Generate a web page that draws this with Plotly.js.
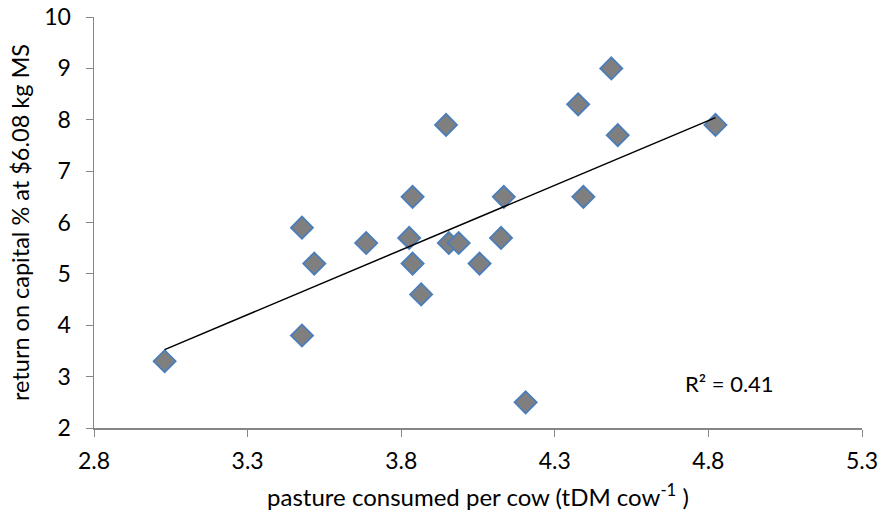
<!DOCTYPE html>
<html>
<head>
<meta charset="utf-8">
<script src="https://cdn.plot.ly/plotly-3.0.1.min.js"></script>
<style>html,body{margin:0;padding:0;background:#fff;}#chart{width:879px;height:517px;}</style>
</head>
<body>
<div id="chart"></div>
<script>
var pastureConsumed = [3.03, 3.477, 3.477, 3.517, 3.686, 3.826, 3.837, 3.837, 3.865, 3.946, 3.955, 3.987, 4.055, 4.125, 4.134, 4.205, 4.376, 4.393, 4.484, 4.505, 4.823];
var returnOnCapital = [3.3, 5.9, 3.8, 5.2, 5.6, 5.7, 6.5, 5.2, 4.6, 7.9, 5.6, 5.6, 5.2, 5.7, 6.5, 2.5, 8.3, 6.5, 9.0, 7.7, 7.9];
var xTickVals = [2.8, 3.3, 3.8, 4.3, 4.8, 5.3];
var xTickText = ["2.8", "3.3", "3.8", "4.3", "4.8", "5.3"];
var rSquaredLabel = "R² = 0.41";

// linear trendline (least squares) from the data
var n = pastureConsumed.length, sx = 0, sy = 0, sxx = 0, sxy = 0;
for (var i = 0; i < n; i++) { sx += pastureConsumed[i]; sy += returnOnCapital[i]; sxx += pastureConsumed[i]*pastureConsumed[i]; sxy += pastureConsumed[i]*returnOnCapital[i]; }
var slope = (n*sxy - sx*sy) / (n*sxx - sx*sx);
var intercept = (sy - slope*sx) / n;
var xMin = Math.min.apply(null, pastureConsumed), xMax = Math.max.apply(null, pastureConsumed);
var trendX = [xMin, xMax];
var trendY = [intercept + slope*xMin, intercept + slope*xMax];

var font = "Lato, 'Open Sans', sans-serif";
var data = [
  {x: pastureConsumed, y: returnOnCapital, type: 'scatter', mode: 'markers',
   marker: {symbol: 'diamond', size: 17, color: '#7f7f7f', line: {color: '#4a7ebb', width: 1.8}},
   hoverinfo: 'x+y', showlegend: false},
  {x: trendX, y: trendY, type: 'scatter', mode: 'lines', line: {color: '#000', width: 1.5}, showlegend: false}
];
var layout = {
  width: 879, height: 517,
  margin: {l: 94, r: 17, t: 17, b: 89},
  paper_bgcolor: '#fff', plot_bgcolor: '#fff',
  font: {family: font, size: 22, color: '#000'},
  xaxis: {range: [2.8, 5.3], tickvals: xTickVals, ticktext: xTickText, showgrid: false, zeroline: false,
          showline: true, linecolor: '#868686', linewidth: 1.5, ticks: 'outside', ticklen: 7, tickcolor: '#868686',
          ticklabelstandoff: 5,
          tickfont: {size: 23}, title: {text: 'pasture consumed per cow (tDM cow<sup>-1</sup> )', font: {size: 24}, standoff: 16}},
  yaxis: {range: [2, 10], dtick: 1, showgrid: false, zeroline: false,
          showline: true, linecolor: '#868686', linewidth: 1.5, ticks: 'outside', ticklen: 7, tickcolor: '#868686',
          ticklabelstandoff: 10,
          tickfont: {size: 23}, title: {text: 'return on capital % at $6.08 kg MS', font: {size: 23.5}, standoff: 8}},
  annotations: [{x: 4.87, y: 2.86, xref: 'x', yref: 'y', text: rSquaredLabel, showarrow: false, font: {size: 22}}]
};
Plotly.newPlot('chart', data, layout, {displayModeBar: false, staticPlot: true});
</script>
</body>
</html>
